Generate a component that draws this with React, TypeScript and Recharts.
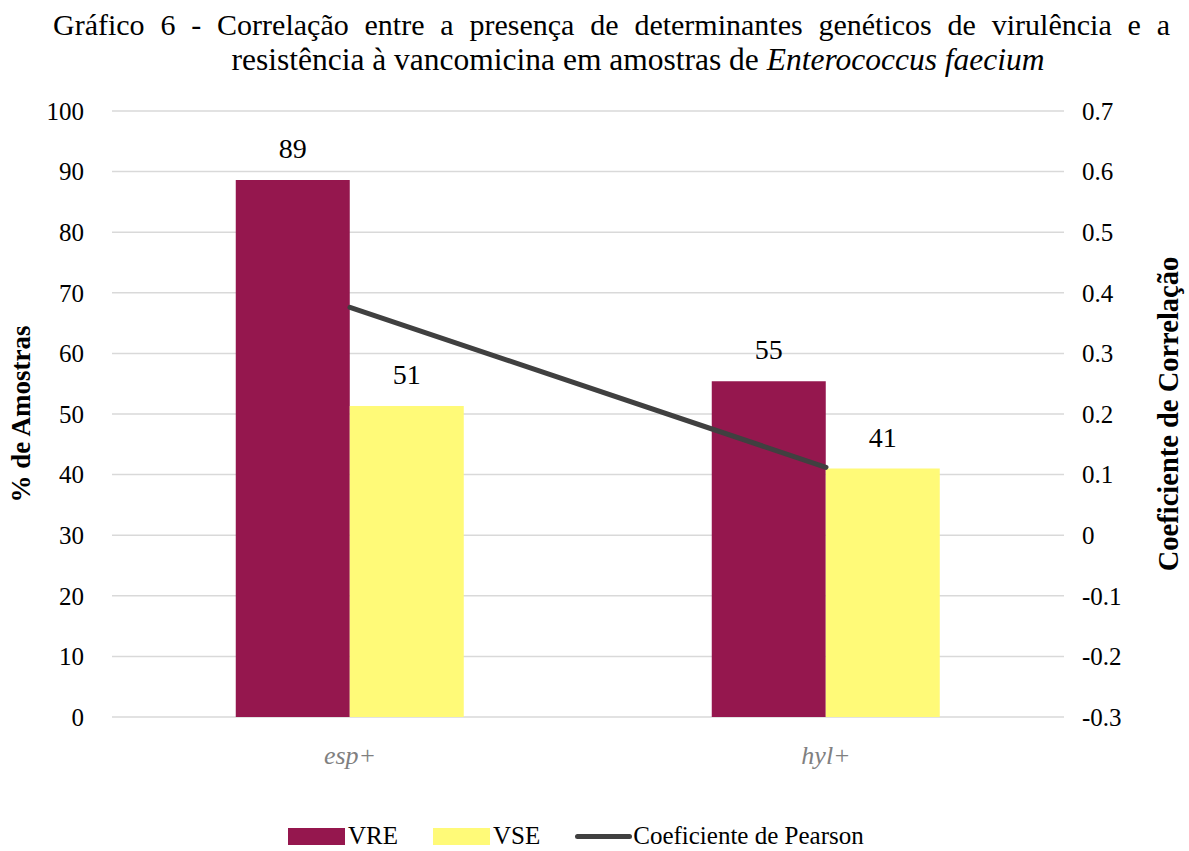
import React from 'react';
import {
  ComposedChart, Bar, Line, XAxis, YAxis, CartesianGrid, Legend, LabelList,
} from 'recharts';

const categories = ['esp+', 'hyl+'];
const vreValues = [88.6, 55.4];
const vseValues = [51.3, 41.0];
const pearsonValues = [0.376, 0.112];
const leftTicks = [0, 10, 20, 30, 40, 50, 60, 70, 80, 90, 100];
const rightTicks = [-0.3, -0.2, -0.1, 0, 0.1, 0.2, 0.3, 0.4, 0.5, 0.6, 0.7];
const titleLine1 = 'Gráfico 6 - Correlação entre a presença de determinantes genéticos de virulência e a';
const titleLine2a = 'resistência à vancomicina em amostras de ';
const titleLine2b = 'Enterococcus faecium';
const seriesNames = { vre: 'VRE', vse: 'VSE', pearson: 'Coeficiente de Pearson' };
const legendOrder = [seriesNames.vre, seriesNames.vse, seriesNames.pearson];

const data = categories.map((c, i) => ({
  cat: c,
  vre: vreValues[i],
  vse: vseValues[i],
  pearson: pearsonValues[i],
}));

const FONT = "'Liberation Serif', 'Times New Roman', serif";
const MAROON = '#95174E';
const YELLOW = '#FFFA78';
const LINE = '#404040';

const fmtRight = (v: number) => (v === 0 ? '0' : v.toFixed(1));

const LegendContent = (props: any) => {
  const payload = [...(props.payload || [])].sort(
    (a: any, b: any) => legendOrder.indexOf(a.value) - legendOrder.indexOf(b.value)
  );
  const items = payload.map((p: any) => {
    const isLine = p.type === 'line';
    return (
      <div key={p.value} style={{ display: 'flex', alignItems: 'center', marginRight: isLine ? 0 : 35 }}>
        {isLine ? (
          <div style={{ width: 57, height: 5, borderRadius: 3, background: p.color, marginRight: 1 }} />
        ) : (
          <div style={{ width: 57, height: 17, background: p.color, marginRight: 3 }} />
        )}
        <span style={{ fontFamily: FONT, fontSize: 25, color: '#000' }}>{p.value}</span>
      </div>
    );
  });
  return (
    <div style={{ display: 'flex', alignItems: 'center', paddingLeft: 288, height: 30 }}>{items}</div>
  );
};

const leftLabel = (props: any) => {
  const vb = props.viewBox;
  const x = vb.x + 21;
  const y = vb.y + vb.height / 2;
  return (
    <text x={x} y={y} transform={`rotate(-90 ${x} ${y})`} textAnchor="middle" dominantBaseline="central"
      style={{ fontFamily: FONT, fontSize: 27, fontWeight: 'bold', fill: '#000' }}>% de Amostras</text>
  );
};

const rightLabel = (props: any) => {
  const vb = props.viewBox;
  const x = vb.x + 104;
  const y = vb.y + vb.height / 2;
  return (
    <text x={x} y={y} transform={`rotate(-90 ${x} ${y})`} textAnchor="middle" dominantBaseline="central"
      style={{ fontFamily: FONT, fontSize: 28.5, fontWeight: 'bold', fill: '#000' }}>Coeficiente de Correlação</text>
  );
};

export default function App() {
  return (
    <div style={{ position: 'absolute', left: 0, top: 0, width: 1189, height: 851, background: '#fff', overflow: 'hidden' }}>
      <div style={{ position: 'absolute', left: 53, top: 8, width: 1117, fontFamily: FONT, fontSize: 30, lineHeight: '34px', textAlign: 'justify', textAlignLast: 'justify', color: '#000' }}>
        {titleLine1}
      </div>
      <div style={{ position: 'absolute', left: 0, top: 43, width: 1276, fontFamily: FONT, fontSize: 31.5, lineHeight: '34px', textAlign: 'center', color: '#000' }}>
        {titleLine2a}<i>{titleLine2b}</i>
      </div>
      <div style={{ position: 'absolute', left: 0, top: 0 }}>
        <ComposedChart width={1189} height={851} data={data}
          margin={{ top: 111, right: 0, left: 0, bottom: 44 }}
          barCategoryGap="26%" barGap={0}>
          <CartesianGrid yAxisId="left" vertical={false} stroke="#d9d9d9" strokeWidth={1.5} />
          <XAxis dataKey="cat" axisLine={false} tickLine={false} height={60} tickSize={6} tickMargin={23}
            tick={{ fontFamily: FONT, fontSize: 26, fontStyle: 'italic', fill: '#808080' }} />
          <YAxis yAxisId="left" orientation="left" width={112} domain={[0, 100]} ticks={leftTicks}
            axisLine={false} tickLine={false} tickSize={6} tickMargin={22} interval={0}
            tick={{ fontFamily: FONT, fontSize: 25, fill: '#000' }} label={leftLabel} />
          <YAxis yAxisId="right" orientation="right" width={125} domain={[-0.3, 0.7]} ticks={rightTicks}
            axisLine={false} tickLine={false} tickSize={6} tickMargin={12} interval={0}
            tickFormatter={fmtRight}
            tick={{ fontFamily: FONT, fontSize: 25, fill: '#000', textAnchor: 'start' }} label={rightLabel} />
          <Bar yAxisId="left" dataKey="vre" name={seriesNames.vre} fill={MAROON} isAnimationActive={false}>
            <LabelList dataKey="vre" position="top" offset={22} formatter={(v: any) => Math.round(v)}
              style={{ fontFamily: FONT, fontSize: 28, fill: '#000' }} />
          </Bar>
          <Bar yAxisId="left" dataKey="vse" name={seriesNames.vse} fill={YELLOW} isAnimationActive={false}>
            <LabelList dataKey="vse" position="top" offset={22} formatter={(v: any) => Math.round(v)}
              style={{ fontFamily: FONT, fontSize: 28, fill: '#000' }} />
          </Bar>
          <Line yAxisId="right" dataKey="pearson" name={seriesNames.pearson} type="linear" stroke={LINE}
            strokeWidth={5} dot={false} activeDot={false} strokeLinecap="round" legendType="line" isAnimationActive={false} />
          <Legend verticalAlign="bottom" align="left" content={LegendContent}
            wrapperStyle={{ bottom: 0, left: 0, width: 1189 }} />
        </ComposedChart>
      </div>
    </div>
  );
}
